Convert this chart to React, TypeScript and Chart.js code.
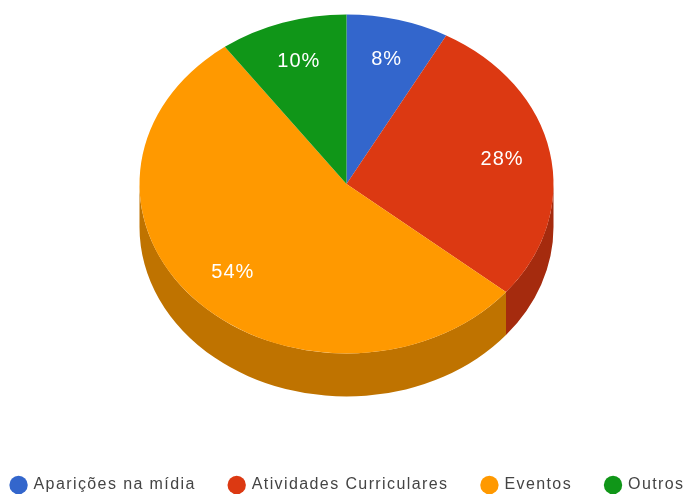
import React, { useEffect, useRef } from "react";
import { Chart, registerables } from "chart.js";

Chart.register(...registerables);

const categories = ["Aparições na mídia", "Atividades Curriculares", "Eventos", "Outros"];
const shares = [8, 28, 54, 10];
const topColors = ["#3366cc", "#dc3912", "#ff9900", "#109618"];
const sideColors = ["#264d99", "#a52b0e", "#bf7300", "#0c7012"];

const CANVAS_LEFT = -32;
const CANVAS_WIDTH = 760;
const CANVAS_HEIGHT = 503;
const CENTER_X = 346.5 - CANVAS_LEFT;
const CENTER_Y = 184;
const RADIUS_X = 207;
const RADIUS_Y = 169.5;
const DEPTH = 43;
const LABEL_RATIO = 0.76;
const LEGEND_SPACING = "1.4px";

const tiltPlugin = {
  id: "tilt",
  beforeUpdate(chart: any) {
    chart.ctx.letterSpacing = LEGEND_SPACING;
  },
  beforeDraw(chart: any) {
    chart.ctx.letterSpacing = LEGEND_SPACING;
  },
  beforeDatasetsDraw(chart: any) {
    const ctx = chart.ctx;
    const arcs = chart.getDatasetMeta(0).data;
    const first = arcs[0];
    const R = first.outerRadius;
    arcs.forEach((arc: any, i: number) => {
      const a0 = Math.max(arc.startAngle, 0);
      const a1 = Math.min(arc.endAngle, Math.PI);
      if (a1 <= a0) return;
      ctx.beginPath();
      ctx.ellipse(CENTER_X, CENTER_Y + DEPTH, RADIUS_X, RADIUS_Y, 0, a0, a1);
      ctx.ellipse(CENTER_X, CENTER_Y, RADIUS_X, RADIUS_Y, 0, a1, a0, true);
      ctx.closePath();
      ctx.fillStyle = sideColors[i];
      ctx.fill();
    });
    ctx.save();
    ctx.translate(CENTER_X, CENTER_Y);
    ctx.scale(RADIUS_X / R, RADIUS_Y / R);
    ctx.translate(-first.x, -first.y);
  },
  afterDatasetsDraw(chart: any) {
    const ctx = chart.ctx;
    ctx.restore();
    const arcs = chart.getDatasetMeta(0).data;
    ctx.save();
    ctx.font = '20px "Liberation Sans", Arial, sans-serif';
    ctx.letterSpacing = "1px";
    ctx.fillStyle = "#ffffff";
    ctx.textAlign = "center";
    ctx.textBaseline = "middle";
    arcs.forEach((arc: any, i: number) => {
      const mid = (arc.startAngle + arc.endAngle) / 2;
      const x = CENTER_X + Math.cos(mid) * RADIUS_X * LABEL_RATIO;
      const y = CENTER_Y + Math.sin(mid) * RADIUS_Y * LABEL_RATIO;
      ctx.fillText(shares[i] + "%", x + 1, y);
    });
    ctx.restore();
  },
};

export default function App() {
  const ref = useRef<HTMLCanvasElement>(null);
  useEffect(() => {
    document.body.style.margin = "0";
    const chart = new Chart(ref.current!, {
      type: "pie",
      data: {
        labels: categories,
        datasets: [{ data: shares, backgroundColor: topColors, borderWidth: 0 }],
      },
      options: {
        responsive: false,
        animation: false,
        devicePixelRatio: 1,
        plugins: {
          tooltip: { enabled: false },
          legend: {
            position: "bottom",
            labels: {
              usePointStyle: true,
              pointStyle: "circle",
              boxWidth: 14,
              boxHeight: 13,
              padding: 34,
              color: "#444444",
              font: { family: '"Liberation Sans", Arial, sans-serif', size: 16 },
            },
          },
        },
      },
      plugins: [tiltPlugin],
    } as any);
    return () => chart.destroy();
  }, []);
  return (
    <div style={{ position: "relative", width: 683, height: 494, overflow: "hidden", background: "#fff" }}>
      <canvas
        ref={ref}
        width={CANVAS_WIDTH}
        height={CANVAS_HEIGHT}
        style={{ position: "absolute", left: CANVAS_LEFT, top: 0, display: "block" }}
      />
    </div>
  );
}
